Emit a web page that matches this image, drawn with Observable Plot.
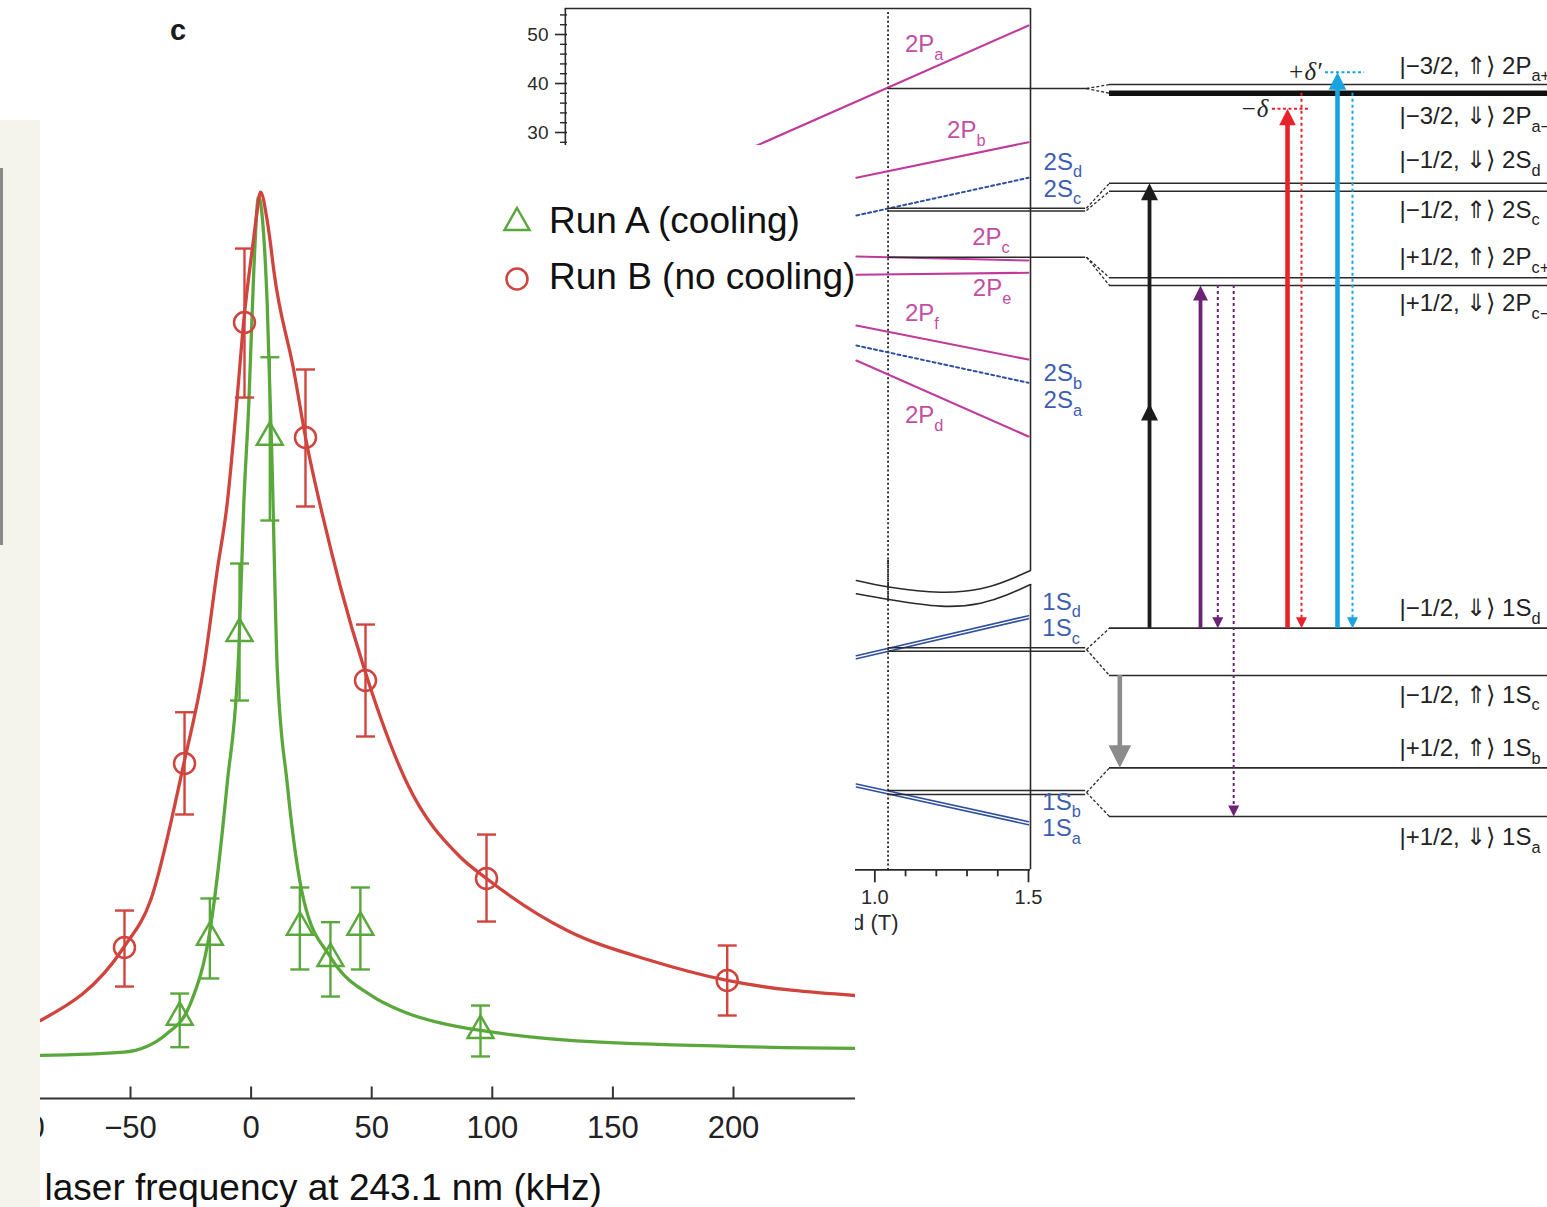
<!DOCTYPE html>
<html>
<head>
<meta charset="utf-8">
<script src="https://cdn.jsdelivr.net/npm/d3@7"></script>
<script src="https://cdn.jsdelivr.net/npm/@observablehq/plot@0.6"></script>
<style>
  html, body { margin: 0; padding: 0; background: #fff; overflow: hidden; }
  #stage { position: relative; width: 1547px; height: 1207px; overflow: hidden;
           font-family: "Liberation Sans", Arial, Helvetica, sans-serif; }
</style>
</head>
<body>
<div id="stage"></div>
<script>
// ---------- Panel c: 1S–2S line shapes (detuning in kHz, signal in arb. units) ----------
const runA = [ // with cooling
  {f: -29.6, v: 8.95,  lo: 5.65,  hi: 11.56},
  {f: -17.1, v: 17.76, lo: 13.22, hi: 22.03},
  {f: -4.8,  v: 51.21, lo: 43.83, hi: 58.92},
  {f: 7.75,  v: 72.83, lo: 63.66, hi: 81.64},
  {f: 20.2,  v: 18.87, lo: 14.21, hi: 23.24},
  {f: 32.9,  v: 15.42, lo: 11.23, hi: 19.42},
  {f: 45.3,  v: 18.87, lo: 14.21, hi: 23.24},
  {f: 95.1,  v: 7.49,  lo: 4.63,  hi: 10.24}
];
const runB = [ // without cooling
  {f: -52.5, v: 16.63, lo: 12.33, hi: 20.70},
  {f: -27.6, v: 36.89, lo: 31.28, hi: 42.54},
  {f: -2.74, v: 85.46, lo: 77.20, hi: 93.61},
  {f: 22.55, v: 72.80, lo: 65.20, hi: 80.29},
  {f: 47.43, v: 46.04, lo: 39.87, hi: 52.20},
  {f: 97.6,  v: 24.23, lo: 19.49, hi: 29.07},
  {f: 197.4, v: 13.00, lo: 9.14,  hi: 16.85}
];
const fitA = [
  [-87.31, 4.74], [-52.78, 5.10], [-34.78, 7.16], [-25.12, 10.46], [-16.83, 18.87],
  [-9.91, 34.69], [-5.10, 49.34], [-3.03, 65.53], [-0.95, 76.54], [1.12, 91.19],
  [3.07, 99.3], [6.67, 87.56], [8.75, 69.16], [10.82, 47.47], [14.97, 34.69],
  [21.85, 21.81], [32.92, 15.56], [50.87, 11.16], [61.94, 9.69], [86.82, 7.85],
  [95.11, 7.49], [144.86, 6.20], [250.58, 5.51]
];
const fitB = [
  [-87.31, 8.59], [-52.78, 16.66], [-41.71, 21.81], [-27.90, 36.89], [-19.61, 47.50],
  [-14.05, 58.15], [-9.91, 65.53], [-5.76, 77.24], [-3.03, 85.68], [1.12, 94.86],
  [2.53, 97.80], [3.90, 99.81], [6.67, 96.70], [8.04, 94.13], [9.41, 91.19],
  [17.70, 80.18], [22.55, 72.83], [30.14, 63.66], [37.06, 56.31], [46.72, 47.50],
  [64.72, 34.69], [86.82, 26.57], [97.60, 24.23], [131.05, 18.50], [165.59, 15.20],
  [197.39, 13.00], [250.58, 11.34]
];
const freqTicks = [-100, -50, 0, 50, 100, 150, 200];
const legendRows = ["Run A (cooling)", "Run B (no cooling)"];

// ---------- Breit–Rabi panel (field in T, energy in GHz) ----------
const trapField = 1.043;
const lines2P = [
  {s: "2Pa", pts: [[0.60, 26.9], [1.5, 51.84]]},
  {s: "2Pb", pts: [[0.94, 20.76], [1.5, 28.02]]},
  {s: "2Pc", pts: [[0.94, 4.69], [1.5, 3.88]]},
  {s: "2Pe", pts: [[0.94, 0.96], [1.5, 1.37]]},
  {s: "2Pf", pts: [[0.94, -9.39], [1.5, -16.33]]},
  {s: "2Pd", pts: [[0.94, -16.53], [1.5, -32.04]]}
];
const lines2S = [
  {s: "2Sdc", pts: [[0.94, 13.06], [1.5, 20.76]]},
  {s: "2Sba", pts: [[0.94, -13.47], [1.5, -21.08]]}
];
const lines1S = [
  {s: "1Sd", pts: [[0.94, 13.22], [1.5, 21.39]]},
  {s: "1Sc", pts: [[0.94, 12.61], [1.5, 20.78]]},
  {s: "1Sb", pts: [[0.94, -12.96], [1.5, -20.65]]},
  {s: "1Sa", pts: [[0.94, -13.57], [1.5, -21.27]]}
];
const joinUpper = [{E: 38.98, end: 1.695}, {E: 14.55, end: 1.686}, {E: 13.98, end: 1.686}, {E: 4.55, end: 1.686}];
const joinLower = [{E: 14.84, end: 1.686}, {E: 14.14, end: 1.686}, {E: -14.29, end: 1.686}, {E: -15.10, end: 1.686}];
const breakUpper = [[0.94, -61.43], [1.051, -62.80], [1.214, -63.82], [1.344, -63.13], [1.431, -61.43], [1.5065, -59.39]];
const breakLower = [[0.94, 25.86], [1.051, 24.63], [1.214, 23.33], [1.344, 23.94], [1.431, 25.65], [1.5065, 27.76]];
const labels2 = [
  {t: "2P_a", B: 1.098, E: 47.96, k: "P"}, {t: "2P_b", B: 1.235, E: 30.41, k: "P"},
  {t: "2P_c", B: 1.317, E: 8.57, k: "P"},  {t: "2P_e", B: 1.319, E: -1.84, k: "P"},
  {t: "2P_f", B: 1.098, E: -6.94, k: "P"}, {t: "2P_d", B: 1.098, E: -27.76, k: "P"},
  {t: "2S_d", B: 1.549, E: 23.94, k: "S"}, {t: "2S_c", B: 1.549, E: 18.51, k: "S"},
  {t: "2S_b", B: 1.549, E: -19.24, k: "S"}, {t: "2S_a", B: 1.549, E: -24.69, k: "S"}
];
const labels1 = [
  {t: "1S_d", B: 1.545, E: 24.14}, {t: "1S_c", B: 1.545, E: 18.71},
  {t: "1S_b", B: 1.545, E: -16.67}, {t: "1S_a", B: 1.545, E: -22.10}
];
const energyTicks = [30, 40, 50];
const energyMinor = [22, 24, 26, 28, 32, 34, 36, 38, 42, 44, 46, 48, 52, 54];
const fieldTicks = [1.0, 1.5];
const fieldMinor = [1.1, 1.2, 1.3, 1.4];

// ---------- Level scheme at the trap field (schematic units) ----------
const levels = [
  {s: "2Pa+", v: 90.67}, {s: "2Pa-", v: 89.70}, {s: "2Sd", v: 79.70}, {s: "2Sc", v: 78.81},
  {s: "2Pc+", v: 69.19}, {s: "2Pc-", v: 68.33}, {s: "1Sd", v: 30.26}, {s: "1Sc", v: 25.0},
  {s: "1Sb", v: 14.74}, {s: "1Sa", v: 9.33}
];
const fans = [
  {v0: 90.22, v1: 90.67}, {v0: 90.22, v1: 89.70},
  {v0: 76.92, v1: 79.70}, {v0: 76.67, v1: 78.81},
  {v0: 71.48, v1: 69.19}, {v0: 71.48, v1: 68.33},
  {v0: 27.89, v1: 30.26}, {v0: 27.89, v1: 25.0},
  {v0: 12.0,  v1: 14.74}, {v0: 12.0,  v1: 9.33}
];
const levelNames = [
  {v: 92.67, t: "|−3/2, ⇑⟩ 2P_a+"}, {v: 87.11, t: "|−3/2, ⇓⟩ 2P_a−"},
  {v: 82.22, t: "|−1/2, ⇓⟩ 2S_d"},  {v: 76.67, t: "|−1/2, ⇑⟩ 2S_c"},
  {v: 71.44, t: "|+1/2, ⇑⟩ 2P_c+"}, {v: 66.33, t: "|+1/2, ⇓⟩ 2P_c−"},
  {v: 32.44, t: "|−1/2, ⇓⟩ 1S_d"},  {v: 22.78, t: "|−1/2, ⇑⟩ 1S_c"},
  {v: 16.89, t: "|+1/2, ⇑⟩ 1S_b"},  {v: 7.0,   t: "|+1/2, ⇓⟩ 1S_a"}
];
const upArrows = [
  {x: 14.78, from: 30.26, to: 79.70, c: "k"},
  {x: 25.7,  from: 30.26, to: 68.33, c: "p"},
  {x: 44.33, from: 30.26, to: 87.97, c: "r"},
  {x: 55.03, from: 30.26, to: 92.03, c: "b"}
];
const midHeads = [{x: 14.78, v: 55.22, c: "k"}];
const decayArrows = [{x: 8.42, from: 25.0, to: 14.74, c: "g"}];
const dottedArrows = [
  {x: 29.4,  from: 68.33, to: 30.26, c: "p"},
  {x: 32.8,  from: 68.33, to: 9.33,  c: "p"},
  {x: 47.32, from: 89.70, to: 30.26, c: "r"},
  {x: 58.24, from: 89.70, to: 30.26, c: "b"}
];
const detunings = [
  {v: 87.97, x1: 41.11, x2: 49.25, c: "r", label: "−δ"},
  {v: 92.03, x1: 52.46, x2: 60.81, c: "b", label: "+δ′"}
];

// ---------- drawing ----------
const FONT = '"Liberation Sans", Arial, Helvetica, sans-serif';
const RED = "#d0443e", GREEN = "#5aa83c", MAGENTA = "#c03a9b", MAGENTA_TXT = "#c24ea3",
      BLUE = "#2f4f9f", BLUE_TXT = "#3d5db2", INK = "#2a2a2a";
const arrowColor = {k: "#1c1c1c", p: "#6d2276", r: "#e8222b", b: "#19a4e1", g: "#8c8c8c"};
const shaftWidth = {k: 3.8, p: 3.8, r: 4.6, b: 4.6, g: 4.6};
const headR = {k: 8.5, p: 7.5, r: 8.3, b: 8.8, g: 11.3};

const arrowHead = {draw(ctx, size) { const r = Math.sqrt(size / Math.PI);
  ctx.moveTo(0, 0); ctx.lineTo(-r, 2 * r); ctx.lineTo(r, 2 * r); ctx.closePath(); }};
const capSymbol = {draw(ctx, size) { const r = Math.sqrt(size / Math.PI);
  ctx.moveTo(-r, 0); ctx.lineTo(r, 0); }};
const tickUp = {draw(ctx, size) { const r = Math.sqrt(size / Math.PI);
  ctx.moveTo(0, 0); ctx.lineTo(0, -2 * r); }};

const flatten = (ls) => ls.flatMap(l => l.pts.map(([B, E]) => ({s: l.s, B, E})));
const clear = {background: "transparent", overflow: "visible", fontFamily: FONT};

// "2P_a" -> 2P with subscript a
function subscripts(svg) {
  const ns = "http://www.w3.org/2000/svg";
  svg.querySelectorAll("text").forEach(t => {
    if (t.querySelector("tspan")) return;
    const s = t.textContent, i = s.indexOf("_");
    if (i < 0) return;
    t.textContent = "";
    const a = document.createElementNS(ns, "tspan"); a.textContent = s.slice(0, i);
    const b = document.createElementNS(ns, "tspan"); b.textContent = s.slice(i + 1);
    b.setAttribute("font-size", "0.68em"); b.setAttribute("dy", "0.45em");
    t.append(a, b);
  });
  return svg;
}

const stage = document.getElementById("stage");
function place(node, left, top, z) {
  Object.assign(node.style, {position: "absolute", left: left + "px", top: top + "px", zIndex: z});
  stage.appendChild(node);
  return node;
}

// Breit–Rabi, n = 2 part
const brUpper = Plot.plot({
  width: 600, height: 600, marginLeft: 67, marginRight: 72, marginTop: 8, marginBottom: 0,
  x: {domain: [0, 1.5], axis: null, label: null},
  y: {domain: [-65.51, 55.31], label: null},
  style: clear,
  marks: [
    Plot.axisY({ticks: energyTicks, tickSize: 12, tickPadding: 7, fontSize: 19, strokeWidth: 1.6, color: INK, label: null}),
    Plot.axisY({ticks: energyMinor, tickSize: 7, tickFormat: () => "", strokeWidth: 1.4, color: INK, label: null}),
    Plot.ruleY([55.31], {x1: -0.007, x2: 1.5065, stroke: INK, strokeWidth: 1.6}),
    Plot.ruleX([-0.007], {y1: 55.31, y2: -65.5, stroke: INK, strokeWidth: 1.6}),
    Plot.ruleX([1.5065], {y1: 55.31, y2: -59.39, stroke: INK, strokeWidth: 1.6}),
    Plot.ruleX([trapField], {y1: 54.5, y2: -65.5, stroke: "#222", strokeWidth: 1.8, strokeDasharray: "2,2.4"}),
    Plot.line(flatten(lines2S), {x: "B", y: "E", z: "s", stroke: BLUE, strokeWidth: 2, strokeDasharray: "3,3"}),
    Plot.line(flatten(lines2P), {x: "B", y: "E", z: "s", stroke: MAGENTA, strokeWidth: 2.1}),
    Plot.ruleY(joinUpper, {y: "E", x1: trapField, x2: "end", stroke: INK, strokeWidth: 1.5}),
    Plot.line(breakUpper, {x: d => d[0], y: d => d[1], curve: "natural", stroke: INK, strokeWidth: 1.6}),
    Plot.text(labels2, {x: "B", y: "E", text: "t", textAnchor: "start", fontSize: 24,
      fill: d => d.k === "P" ? MAGENTA_TXT : BLUE_TXT})
  ]
});
place(subscripts(brUpper), 500, 0, 1);

// Breit–Rabi, n = 1 part with field axis
const brLower = Plot.plot({
  width: 600, height: 400, marginLeft: 67, marginRight: 72, marginTop: 0, marginBottom: 90.7,
  x: {domain: [0, 1.5], label: null},
  y: {domain: [-30.47, 32.65], axis: null, label: null},
  style: clear,
  marks: [
    Plot.axisX({ticks: fieldTicks, tickSize: 13, tickPadding: 7, fontSize: 20, tickFormat: d3.format(".1f"),
      strokeWidth: 1.8, color: INK, label: null}),
    Plot.axisX({ticks: fieldMinor, tickSize: 7, tickFormat: () => "", strokeWidth: 1.8, color: INK, label: null}),
    Plot.ruleY([-30.47], {x1: -0.007, x2: 1.5065, stroke: INK, strokeWidth: 1.8}),
    Plot.ruleX([1.5065], {y1: 27.76, y2: -30.47, stroke: INK, strokeWidth: 1.6}),
    Plot.ruleX([trapField], {y1: 32.65, y2: -30.47, stroke: "#222", strokeWidth: 1.8, strokeDasharray: "2,2.4"}),
    Plot.line(flatten(lines1S), {x: "B", y: "E", z: "s", stroke: BLUE, strokeWidth: 1.6}),
    Plot.ruleY(joinLower, {y: "E", x1: trapField, x2: "end", stroke: INK, strokeWidth: 1.5}),
    Plot.line(breakLower, {x: d => d[0], y: d => d[1], curve: "natural", stroke: INK, strokeWidth: 1.6}),
    Plot.text(labels1, {x: "B", y: "E", text: "t", textAnchor: "start", fontSize: 24, fill: BLUE_TXT}),
    Plot.text([{B: 1.077, t: "Magnetic field (T)"}], {x: "B", text: "t", frameAnchor: "bottom",
      textAnchor: "end", lineAnchor: "middle", dy: 53, fontSize: 22, fill: INK})
  ]
});
place(subscripts(brLower), 500, 560, 1);

// Level scheme with laser and decay arrows
const scheme = Plot.plot({
  width: 467, height: 900, margin: 0,
  x: {domain: [0, 100], axis: null}, y: {domain: [0, 100], axis: null},
  color: {type: "identity"}, r: {type: "identity"},
  style: clear,
  marks: [
    Plot.ruleY(levels.filter(d => d.s !== "2Pa-"), {y: "v", x1: 6.21, x2: 100, stroke: INK, strokeWidth: 1.6}),
    Plot.ruleY(levels.filter(d => d.s === "2Pa-"), {y: "v", x1: 6.21, x2: 100, stroke: "#111", strokeWidth: 5.5}),
    Plot.link(fans, {x1: 1.28, x2: 6.21, y1: "v0", y2: "v1", stroke: INK, strokeWidth: 1.3, strokeDasharray: "3,2"}),
    Plot.ruleY(detunings, {y: "v", x1: "x1", x2: "x2", stroke: d => arrowColor[d.c], strokeWidth: 1.8, strokeDasharray: "3,2.5"}),
    Plot.ruleX(dottedArrows, {x: "x", y1: "from", y2: "to", stroke: d => arrowColor[d.c], strokeWidth: 2,
      strokeDasharray: "3,3", insetBottom: 5}),
    Plot.dot(dottedArrows, {x: "x", y: "to", symbol: arrowHead, r: 5.5, rotate: 180, fill: d => arrowColor[d.c], stroke: "none"}),
    Plot.ruleX(upArrows, {x: "x", y1: "to", y2: "from", stroke: d => arrowColor[d.c], strokeWidth: d => shaftWidth[d.c], insetTop: 10}),
    Plot.dot(upArrows, {x: "x", y: "to", symbol: arrowHead, r: d => headR[d.c], fill: d => arrowColor[d.c], stroke: "none"}),
    Plot.dot(midHeads, {x: "x", y: "v", symbol: arrowHead, r: d => headR[d.c], fill: d => arrowColor[d.c], stroke: "none"}),
    Plot.ruleX(decayArrows, {x: "x", y1: "from", y2: "to", stroke: d => arrowColor[d.c], strokeWidth: d => shaftWidth[d.c], insetBottom: 14}),
    Plot.dot(decayArrows, {x: "x", y: "to", symbol: arrowHead, r: d => headR[d.c], rotate: 180, fill: d => arrowColor[d.c], stroke: "none"}),
    Plot.text(detunings, {x: "x1", y: "v", text: "label", textAnchor: "end", dx: -4, fontSize: 25,
      fontFamily: '"Liberation Serif", "DejaVu Serif", serif', fontStyle: "italic", fill: "#222"}),
    Plot.text(levelNames, {x: () => 68.31, y: "v", text: "t", textAnchor: "start", fontSize: 24, fill: "#222"})
  ]
});
place(subscripts(scheme), 1080, 0, 2);

// Panel c
const main = Plot.plot({
  width: 855, height: 1062, marginLeft: 0, marginRight: 0, marginTop: 0, marginBottom: 109,
  x: {domain: [-103.90, 250.58], label: null},
  y: {domain: [0, 104.96], axis: null, label: null},
  style: {background: "#fff", overflow: "hidden", fontFamily: FONT},
  marks: [
    Plot.ruleY([0], {stroke: "#333", strokeWidth: 2.2}),
    Plot.dot(freqTicks, {x: d => d, y: 0, symbol: tickUp, r: 6, stroke: "#333", strokeWidth: 2}),
    Plot.axisX({ticks: freqTicks, tickSize: 0, tickPadding: 17, fontSize: 31, color: "#222", label: null}),
    Plot.text([{t: "laser frequency at 243.1 nm (kHz)"}], {text: "t", frameAnchor: "bottom-left",
      textAnchor: "start", lineAnchor: "middle", dx: 44, dy: 90, fontSize: 37, fill: "#111"}),
    Plot.line(fitA, {x: d => d[0], y: d => d[1], curve: "monotone-x", stroke: GREEN, strokeWidth: 3.3}),
    Plot.line(fitB, {x: d => d[0], y: d => d[1], curve: "monotone-x", stroke: RED, strokeWidth: 3.3}),
    Plot.ruleX(runB, {x: "f", y1: "lo", y2: "hi", stroke: RED, strokeWidth: 2.4}),
    Plot.dot(runB, {x: "f", y: "lo", symbol: capSymbol, r: 9.5, stroke: RED, strokeWidth: 2.4}),
    Plot.dot(runB, {x: "f", y: "hi", symbol: capSymbol, r: 9.5, stroke: RED, strokeWidth: 2.4}),
    Plot.dot(runB, {x: "f", y: "v", r: 10.5, stroke: RED, strokeWidth: 2.5, fill: "none"}),
    Plot.ruleX(runA, {x: "f", y1: "lo", y2: "hi", stroke: GREEN, strokeWidth: 2.4}),
    Plot.dot(runA, {x: "f", y: "lo", symbol: capSymbol, r: 9.5, stroke: GREEN, strokeWidth: 2.4}),
    Plot.dot(runA, {x: "f", y: "hi", symbol: capSymbol, r: 9.5, stroke: GREEN, strokeWidth: 2.4}),
    Plot.dot(runA, {x: "f", y: "v", symbol: "triangle", r: 9.6, stroke: GREEN, strokeWidth: 2.5, fill: "none"})
  ]
});
place(main, 0, 145, 3);

// side strip of the neighbouring panel
const strip = document.createElement("div");
Object.assign(strip.style, {width: "40px", height: "1087px", background: "#f4f4ec"});
place(strip, 0, 120, 4);
const edge = document.createElement("div");
Object.assign(edge.style, {width: "3px", height: "377px", background: "#8a8a8a"});
place(edge, 0, 168, 5);

// legend
const ns = "http://www.w3.org/2000/svg";
const legend = document.createElementNS(ns, "svg");
legend.setAttribute("width", "380"); legend.setAttribute("height", "120");
legend.innerHTML = `
  <polygon points="12,8 24.5,30 -0.5,30" fill="none" stroke="${GREEN}" stroke-width="2.5"/>
  <circle cx="12" cy="79" r="10.5" fill="none" stroke="${RED}" stroke-width="2.5"/>
  <text x="44" y="33" font-size="37" fill="#111" font-family='${FONT}'>${legendRows[0]}</text>
  <text x="44" y="88.5" font-size="37" fill="#111" font-family='${FONT}'>${legendRows[1]}</text>`;
legend.style.overflow = "visible";
place(legend, 505, 200, 6);

// panel letter
const letter = document.createElement("div");
letter.textContent = "c";
Object.assign(letter.style, {font: `bold 29px ${FONT}`, color: "#1a1a1a", lineHeight: "29px"});
place(letter, 170, 16, 6);
</script>
</body>
</html>
